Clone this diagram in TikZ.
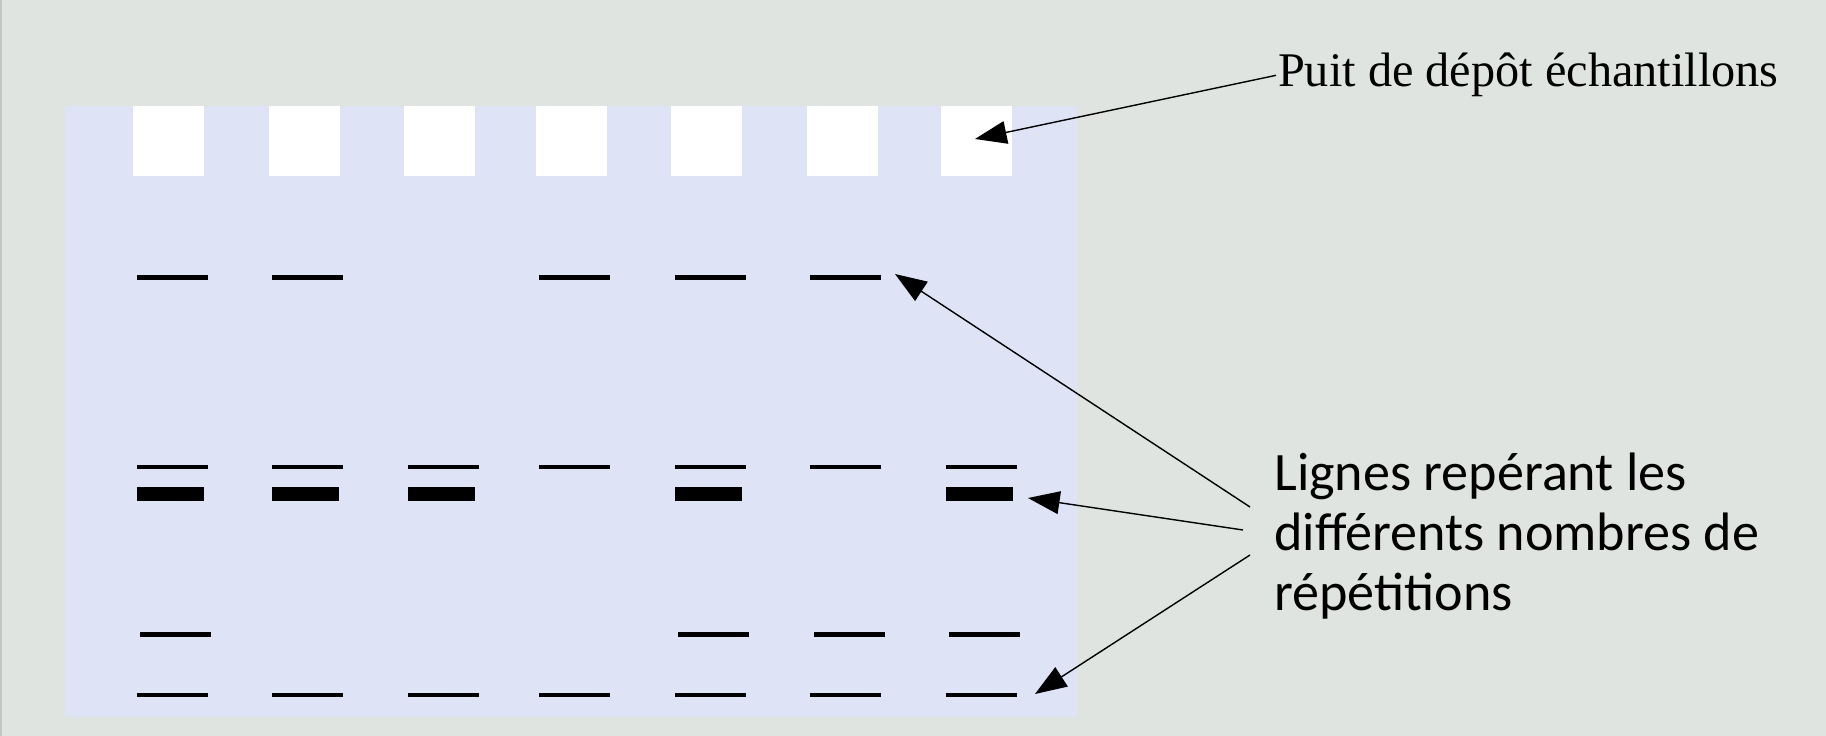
\documentclass[tikz,border=0pt]{standalone}
\usepackage{fontspec}
\setmainfont{Liberation Serif}
\newfontfamily\labelfont{Carlito}
\usetikzlibrary{arrows.meta}

\definecolor{pagegrey}{RGB}{224,228,224}
\definecolor{edgegrey}{RGB}{196,198,196}
\definecolor{gelblue}{RGB}{223,227,246}

\begin{document}
\begin{tikzpicture}[
    x=0.02cm, y=-0.02cm,
    well/.style={fill=white},
    band/.style={fill=black},
    pointer/.style={
        -{Triangle[length=18pt,width=13pt]},
        draw=black,
        line width=0.8pt
    }
]
    % page and gel
    \fill[pagegrey] (0,0) rectangle (1826,736);
    \fill[edgegrey] (0,0) rectangle (2,736);
    \fill[gelblue] (65,106) rectangle (1077,717);

    % wells
    \foreach \x in {133,269,404,536,671,807,941}
        \fill[well] (\x,106) rectangle ++(71,70);

    % bands
    \foreach \x in {137,272,539,675,810}
        \fill[band] (\x,275.5) rectangle ++(71,4.5);
    \foreach \x in {137,272,408,539,675,810,946}
        \fill[band] (\x,465) rectangle ++(71,4.5);
    \foreach \x in {137,272,408,675,946}
        \fill[band] (\x,487) rectangle ++(67,14);
    \foreach \x in {140,678,814,949}
        \fill[band] (\x,632) rectangle ++(71,4.5);
    \foreach \x in {137,272,408,539,675,810,946}
        \fill[band] (\x,692.5) rectangle ++(71,4.5);

    % labels
    \node[anchor=base west, inner sep=1pt, font=\fontsize{27.5}{30}\selectfont] (puit) at (1276,87)
        {Puit de dépôt échantillons};
    \node[anchor=base west, inner sep=0pt, align=left,
          font=\labelfont\fontsize{30.8}{34}\selectfont] (lignes) at (1274,610)
        {Lignes repérant les\\différents nombres de\\répétitions};

    \coordinate (wellTip) at (975,139);
    \coordinate (topTip) at (895,274);
    \coordinate (midTip) at (1028,498);
    \coordinate (lowTip) at (1035,694);
    \coordinate (fromTop) at (1250,507);
    \coordinate (fromMid) at (1243,530);
    \coordinate (fromLow) at (1250,555);

    \draw[pointer] (puit.west) -- (wellTip);
    \draw[pointer] (fromTop) -- (topTip);
    \draw[pointer] (fromMid) -- (midTip);
    \draw[pointer] (fromLow) -- (lowTip);
\end{tikzpicture}
\end{document}
